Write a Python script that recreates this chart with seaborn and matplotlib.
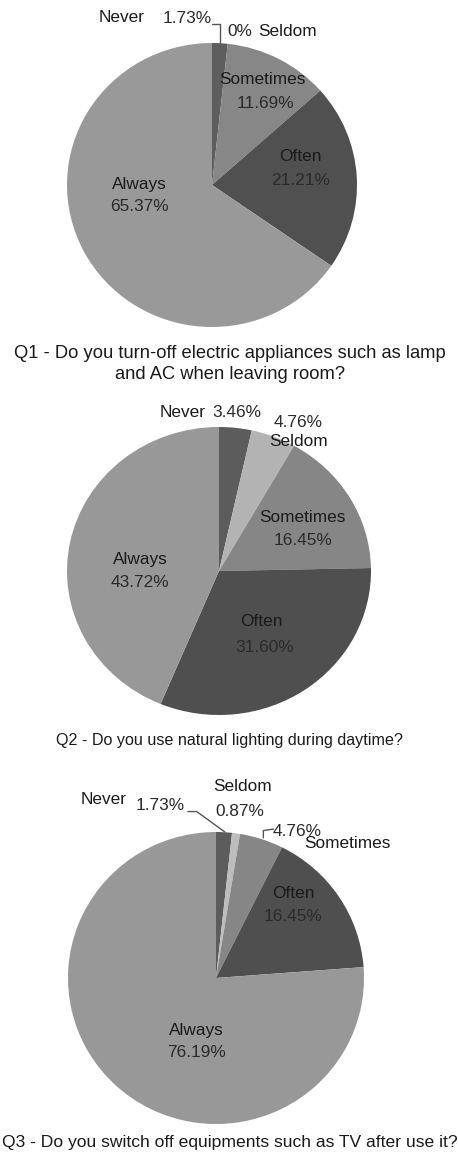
import matplotlib
matplotlib.use('Agg')
import matplotlib.pyplot as plt
import seaborn as sns

sns.set_style('white')
plt.rcParams['font.family'] = ['Liberation Sans', 'DejaVu Sans']

categories = ['Never', 'Seldom', 'Sometimes', 'Often', 'Always']
q1_values = [1.73, 0.0, 11.69, 21.21, 65.37]
q2_values = [3.46, 4.76, 16.45, 31.60, 43.72]
q3_values = [1.73, 0.87, 4.76, 16.45, 76.19]

q1_colors = ['#5e5e5e', '#b5b5b5', '#878787', '#505050', '#999999']
q2_colors = ['#5c5c5c', '#b3b3b3', '#868686', '#4f4f4f', '#989898']
q3_colors = ['#5c5c5c', '#bdbdbd', '#868686', '#4f4f4f', '#989898']

titles = ['Q1 - Do you turn-off electric appliances such as lamp\nand AC when leaving room?',
          'Q2 - Do you use natural lighting during daytime?',
          'Q3 - Do you switch off equipments such as TV after use it?']

W, H = 458, 1159
fig = plt.figure(figsize=(W / 100, H / 100), dpi=100)

# pie placement in pixels: centre x, centre y, radius x, radius y
pies = [(212, 185, 145, 142), (219, 571, 152, 144), (216, 978, 148, 146)]

# label positions (pie data units): name pos, pct pos
q1_pos = {'Never': ((-0.62, 1.18), (-0.17, 1.17)),
          'Seldom': ((0.52, 1.08), (0.19, 1.08)),
          'Sometimes': ((0.345, 0.746), (0.366, 0.577)),
          'Often': ((0.61, 0.20), (0.61, 0.03)),
          'Always': ((-0.50, 0.0), (-0.50, -0.15))}
q2_pos = {'Never': ((-0.24, 1.10), (0.12, 1.10)),
          'Seldom': ((0.52, 0.90), (0.52, 1.03)),
          'Sometimes': ((0.55, 0.37), (0.55, 0.21)),
          'Often': ((0.28, -0.35), (0.30, -0.53)),
          'Always': ((-0.52, 0.08), (-0.52, -0.08))}
q3_pos = {'Never': ((-0.76, 1.22), (-0.38, 1.18)),
          'Seldom': ((0.18, 1.31), (0.16, 1.14)),
          'Sometimes': ((0.89, 0.92), (0.55, 1.0)),
          'Often': ((0.52, 0.58), (0.52, 0.42)),
          'Always': ((-0.13, -0.36), (-0.13, -0.51))}

leaders = [[[(0, 1.134), (0.055, 1.134), (0.055, 1.0)]],
           [],
           [[(-0.19, 1.14), (-0.13, 1.14), (0.06, 1.0)],
            [(0.32, 0.96), (0.32, 1.01), (0.39, 1.02)]]]

title_y = [364, 741, 1143]
title_size = [13.2, 11.6, 12.6]

all_values = [q1_values, q2_values, q3_values]
all_colors = [q1_colors, q2_colors, q3_colors]
all_pos = [q1_pos, q2_pos, q3_pos]

for i in range(3):
    cx, cy, rx, ry = pies[i]
    ax = fig.add_axes([(cx - rx) / W, (H - cy - ry) / H, 2 * rx / W, 2 * ry / H])
    ax.pie(all_values[i], colors=all_colors[i], startangle=90, counterclock=False,
           radius=1, wedgeprops={'linewidth': 0})
    ax.set_aspect('auto')
    ax.set_xlim(-1, 1)
    ax.set_ylim(-1, 1)
    ax.axis('off')
    for cat, v in zip(categories, all_values[i]):
        (nx, ny), (px, py) = all_pos[i][cat]
        pct = '0%' if v == 0 else f'{v:.2f}%'
        ax.text(nx, ny, cat, ha='center', va='center', fontsize=12.4, color='#1a1a1a')
        ax.text(px, py, pct, ha='center', va='center', fontsize=12.4, color='#2a2a2a')
    for pts in leaders[i]:
        xs = [p[0] for p in pts]
        ys = [p[1] for p in pts]
        ax.plot(xs, ys, color='#555555', lw=1, clip_on=False)
    fig.text(230 / W, 1 - title_y[i] / H, titles[i], ha='center', va='center',
             fontsize=title_size[i], color='#1a1a1a', linespacing=1.25)

fig.savefig('out.png', dpi=100)
